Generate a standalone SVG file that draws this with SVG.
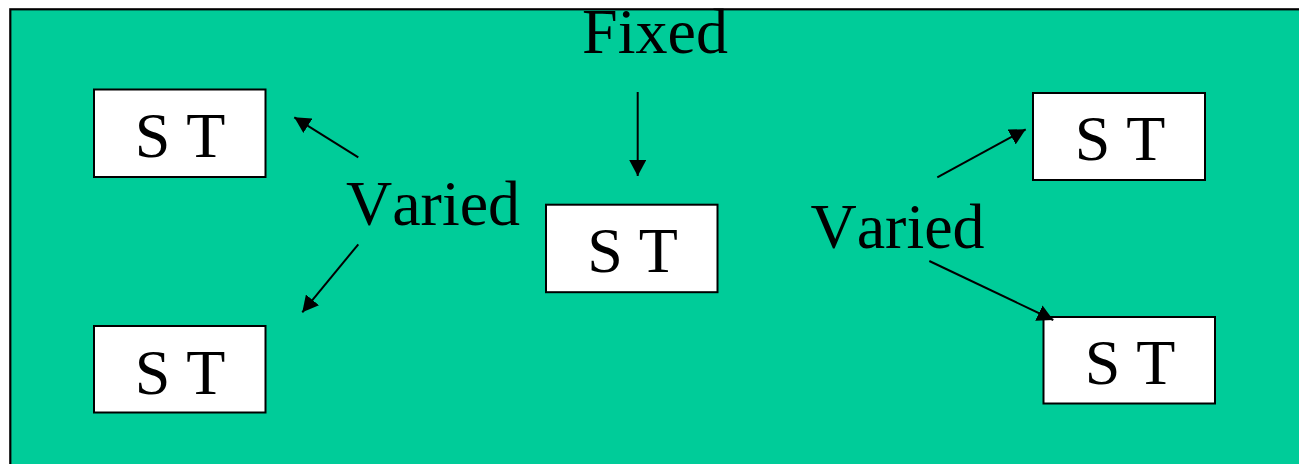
<svg xmlns="http://www.w3.org/2000/svg" width="1299" height="464" viewBox="0 0 1299 464">
  <style>
    .box { fill: #ffffff; stroke: #000000; stroke-width: 2; }
    .lbl { font-family: "Liberation Serif", "Times New Roman", serif; font-size: 64px; fill: #000000; text-anchor: middle; font-kerning: none; }
    .conn { stroke: #000000; stroke-width: 2; fill: none; marker-end: url(#head); }
  </style>
  <defs>
    <marker id="head" markerUnits="userSpaceOnUse" markerWidth="17" markerHeight="17" refX="16" refY="8.5" orient="auto">
      <path d="M0,0 L16,8.5 L0,17 z" fill="#000000"/>
    </marker>
  </defs>

  <!-- page background -->
  <rect x="0" y="0" width="1299" height="464" fill="#ffffff"/>
  <rect id="panel" x="10.3" y="9.3" width="1310" height="480" fill="#00cc99" stroke="#000000" stroke-width="2.2"/>

  <!-- labels -->
  <g id="label-fixed"><text class="lbl" x="655" y="53">Fixed</text></g>
  <g id="label-varied-left"><text class="lbl" x="433" y="225">Varied</text></g>
  <g id="label-varied-right"><text class="lbl" x="897.5" y="248">Varied</text></g>

  <!-- S T boxes -->
  <g id="st-top-left">
    <rect class="box" x="94" y="89.5" width="171.5" height="87.5"/>
    <text class="lbl" x="180" y="157">S T</text>
  </g>
  <g id="st-bottom-left">
    <rect class="box" x="94" y="326" width="171.5" height="86.5"/>
    <text class="lbl" x="180" y="394">S T</text>
  </g>
  <g id="st-center">
    <rect class="box" x="546" y="204.7" width="171.5" height="87.5"/>
    <text class="lbl" x="632.5" y="272">S T</text>
  </g>
  <g id="st-top-right">
    <rect class="box" x="1033" y="93" width="172" height="87"/>
    <text class="lbl" x="1120" y="160">S T</text>
  </g>
  <g id="st-bottom-right">
    <rect class="box" x="1043.5" y="317" width="171.5" height="86.5"/>
    <text class="lbl" x="1130" y="383.5">S T</text>
  </g>

  <!-- connectors -->
  <g id="connectors">
    <line class="conn" x1="637.7" y1="92" x2="637.7" y2="176"/>
    <line class="conn" x1="358.3" y1="157.3" x2="294.3" y2="117.3"/>
    <line class="conn" x1="358.3" y1="244.3" x2="302.3" y2="312.3"/>
    <line class="conn" x1="937.3" y1="177.3" x2="1025.7" y2="129.3"/>
    <line class="conn" x1="929.3" y1="261" x2="1053.3" y2="320"/>
  </g>
</svg>
